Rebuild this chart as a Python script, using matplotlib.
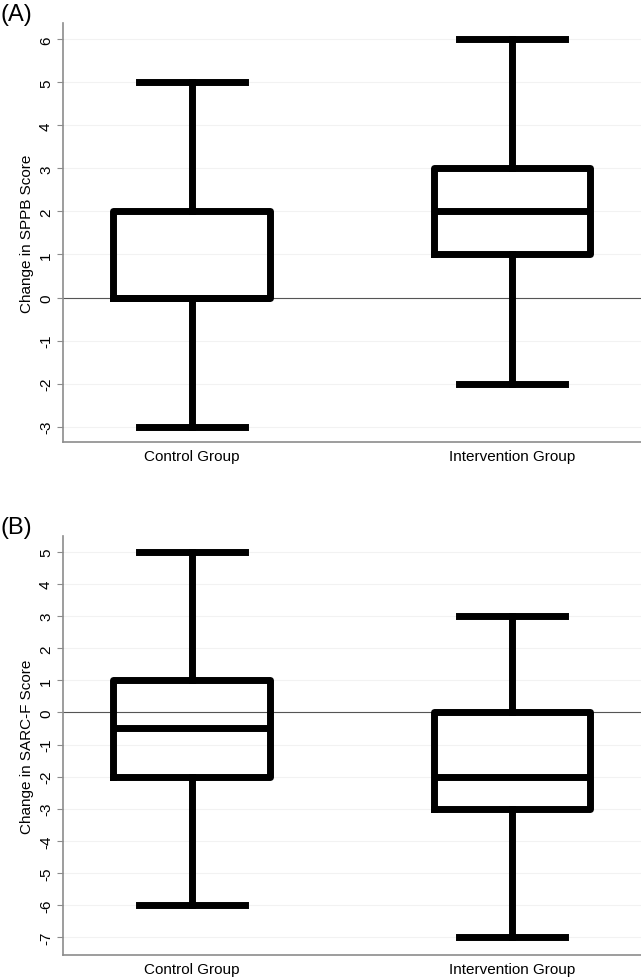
import matplotlib.pyplot as plt

plt.rcParams['font.family'] = ['Liberation Sans', 'DejaVu Sans']

groups = ["Control Group", "Intervention Group"]

# panel A: change in SPPB score
sppb_low = [-3, -2]
sppb_q1 = [0, 1]
sppb_med = [0, 2]
sppb_q3 = [2, 3]
sppb_high = [5, 6]

# panel B: change in SARC-F score
sarc_low = [-6, -7]
sarc_q1 = [-2, -3]
sarc_med = [-0.5, -2]
sarc_q3 = [1, 0]
sarc_high = [5, 3]


def make_stats(low, q1, med, q3, high):
    stats = []
    for i in range(len(groups)):
        stats.append(dict(whislo=low[i], q1=q1[i], med=med[i], q3=q3[i],
                          whishi=high[i], fliers=[], label=groups[i]))
    return stats


def draw_panel(ax, stats, ticks, ylim, ylabel, tag):
    lw = 5.0
    ax.bxp(stats, positions=[1, 2], widths=0.49, showfliers=False,
           boxprops=dict(color='black', linewidth=lw),
           medianprops=dict(color='black', linewidth=lw),
           whiskerprops=dict(color='black', linewidth=lw),
           capprops=dict(color='black', linewidth=lw),
           capwidths=0.33, zorder=3)
    ax.set_xlim(0.597, 2.403)
    ax.set_ylim(*ylim)
    ax.set_yticks(ticks)
    ax.set_yticklabels([str(t) for t in ticks], rotation=90, va='center')
    for t in ticks:
        ax.axhline(t, color='#f2f2f2', linewidth=0.8, zorder=0)
    ax.axhline(0, color='#555555', linewidth=0.8, zorder=1)
    ax.set_ylabel(ylabel, fontsize=11, labelpad=4)
    for s in ['top', 'right']:
        ax.spines[s].set_visible(False)
    for s in ['left', 'bottom']:
        ax.spines[s].set_color('#8c8c8c')
        ax.spines[s].set_linewidth(1.2)
    ax.tick_params(axis='y', colors='#8c8c8c', labelcolor='black',
                   labelsize=11, length=4, pad=3)
    ax.tick_params(axis='x', length=0, labelsize=11, pad=5)
    ax.figure.text(0.0, ax.get_position().y1 - 0.002, tag, fontsize=17,
                   va='bottom', ha='left')


fig = plt.figure(figsize=(6.41, 9.79), dpi=100)
ax1 = fig.add_axes([0.098, 0.547, 0.902, 0.428])
ax2 = fig.add_axes([0.098, 0.0235, 0.902, 0.428])

draw_panel(ax1, make_stats(sppb_low, sppb_q1, sppb_med, sppb_q3, sppb_high),
           list(range(-3, 7)), (-3.37, 6.37), "Change in SPPB Score", "(A)")
draw_panel(ax2, make_stats(sarc_low, sarc_q1, sarc_med, sarc_q3, sarc_high),
           list(range(-7, 6)), (-7.56, 5.5), "Change in SARC-F Score", "(B)")

fig.savefig("out.png", dpi=100)
